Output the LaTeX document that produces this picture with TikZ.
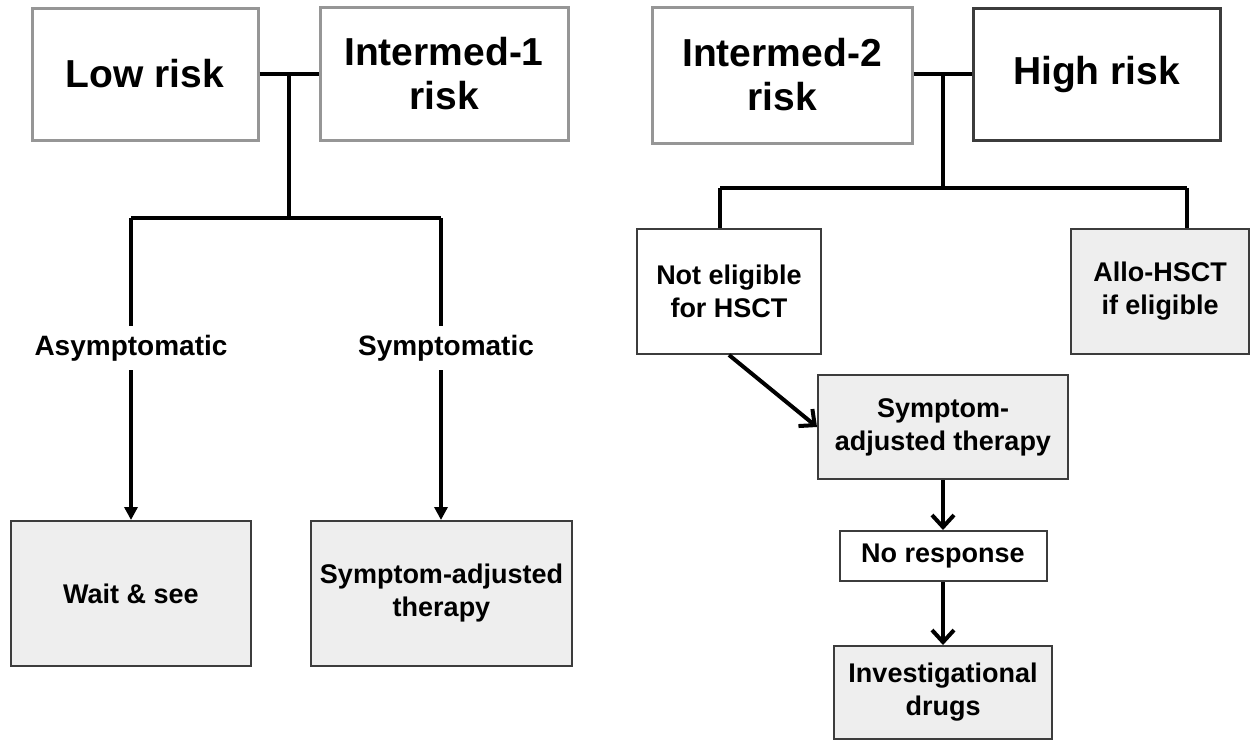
\documentclass[tikz,border=0pt]{standalone}
\usepackage{fontspec}
\setmainfont{Liberation Sans}
\usetikzlibrary{arrows.meta, positioning}
\definecolor{rgray}{RGB}{150,150,150}
\definecolor{dgray}{RGB}{60,60,60}
\definecolor{lfill}{RGB}{238,238,238}

\begin{document}
\begin{tikzpicture}[x=1pt, y=-1pt,
  riskbox/.style={
    rectangle, draw=rgray, line width=3pt, fill=white,
    align=center, inner sep=0pt,
    font=\fontsize{39}{44}\selectfont\bfseries
  },
  optbox/.style={
    rectangle, draw=dgray, line width=2pt, fill=white,
    align=center, inner sep=0pt,
    font=\fontsize{27}{33}\selectfont\bfseries
  },
  gbox/.style={optbox, fill=lfill},
  lbl/.style={fill=white, inner sep=9pt, font=\fontsize{28}{30}\selectfont\bfseries},
  conn/.style={line width=4pt, draw=black},
  arr/.style={conn, -{Triangle[length=13pt,width=13pt]}},
  barb/.style={conn, -{Straight Barb[length=12pt,width=22pt]}}
]
  \useasboundingbox (0,0) rectangle (1256,740);

  % lower and intermediate-1 risk
  \node[riskbox, minimum width=226pt, minimum height=132pt] (low) at (145,74) {Low risk};
  \node[riskbox, minimum width=248pt, minimum height=133pt] (int1) at (444,74) {Intermed-1\\risk};
  \node[lbl] (asym) at (131,348) {Asymptomatic};
  \node[lbl] (sym) at (446,348) {Symptomatic};
  \node[gbox, minimum width=240pt, minimum height=145pt] (wait) at (131,593.5) {Wait \& see};
  \node[gbox, minimum width=261pt, minimum height=145pt] (syml) at (441.5,593.5) {Symptom-adjusted\\therapy};

  \coordinate (j1) at (289,74);
  \coordinate (b1) at (289,218);
  \coordinate (bl) at (131,218);
  \coordinate (br) at (441,218);

  \draw[conn] (low.east) -- (int1.west);
  \draw[conn] (j1) -- (b1);
  \draw[conn] (bl) -- (br);
  \draw[conn] (bl) -- (bl |- asym.north);
  \draw[arr] (bl |- asym.south) -- (bl |- wait.north);
  \draw[conn] (br) -- (br |- sym.north);
  \draw[arr] (br |- sym.south) -- (br |- syml.north);

  % intermediate-2 and high risk
  \node[riskbox, minimum width=260pt, minimum height=136pt] (int2) at (782,75) {Intermed-2\\risk};
  \node[riskbox, draw=dgray, minimum width=247pt, minimum height=132pt] (high) at (1096.5,74) {High risk};
  \node[optbox, minimum width=184pt, minimum height=125pt] (noelig) at (729,291.5) {Not eligible\\for HSCT};
  \node[gbox, minimum width=178pt, minimum height=125pt] (allo) at (1160,291.5) {Allo-HSCT\\if eligible};
  \node[gbox, minimum width=250pt, minimum height=104pt] (symr) at (943,427) {Symptom-\\adjusted therapy};
  \node[optbox, minimum width=207pt, minimum height=50pt] (nores) at (943,556) {No response};
  \node[gbox, minimum width=218pt, minimum height=93pt] (invest) at (943,692.5) {Investigational\\drugs};

  \coordinate (j2) at (943,74);
  \coordinate (b2) at (943,188);
  \coordinate (bl2) at (720,188);
  \coordinate (br2) at (1187,188);

  \draw[conn] (int2.east |- j2) -- (high.west |- j2);
  \draw[conn] (j2) -- (b2);
  \draw[conn] (bl2) -- (br2);
  \draw[conn] (bl2) -- (bl2 |- noelig.north);
  \draw[conn] (br2) -- (br2 |- allo.north);
  \draw[barb] (noelig.south) -- (symr.west);
  \draw[barb] (symr.south) -- (nores.north);
  \draw[barb] (nores.south) -- (invest.north);
\end{tikzpicture}
\end{document}
